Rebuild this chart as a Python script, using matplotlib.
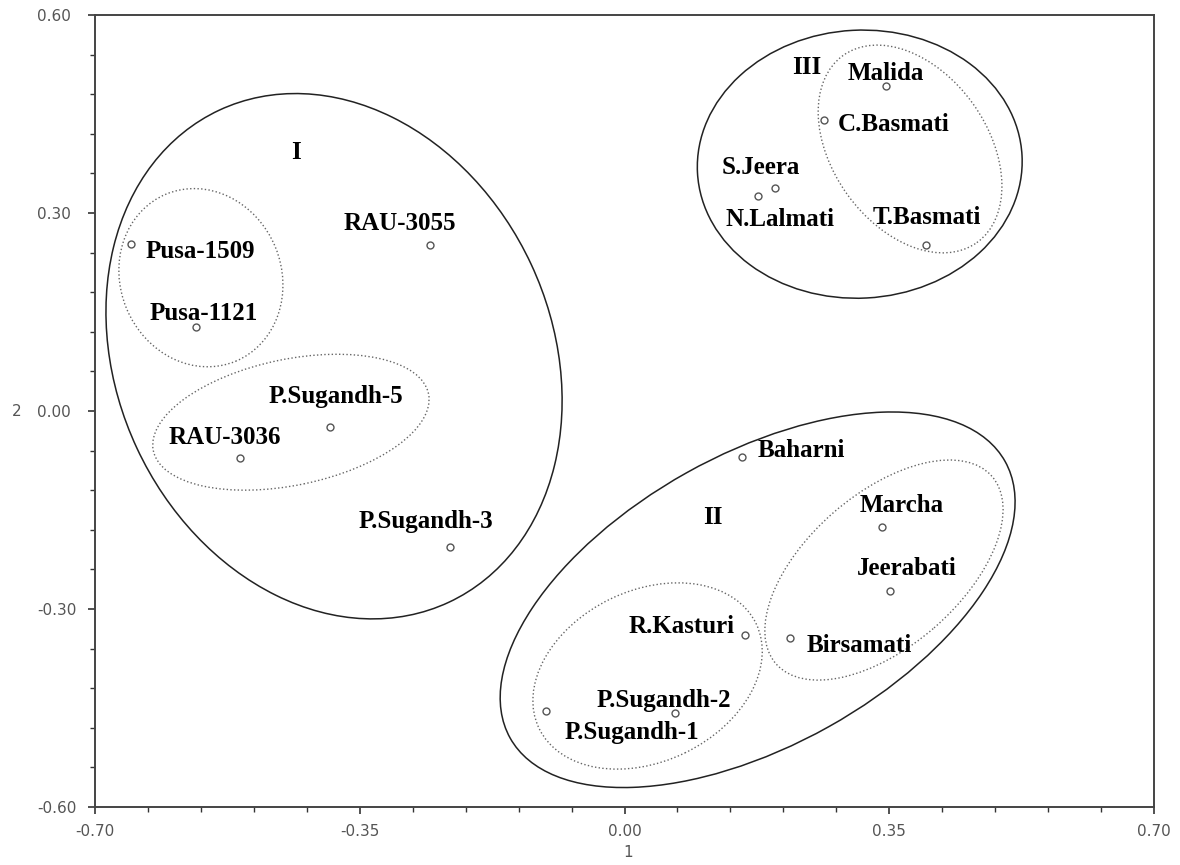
import numpy as np
import matplotlib.pyplot as plt
from matplotlib.patches import Ellipse
from matplotlib.transforms import ScaledTranslation
from matplotlib.ticker import MultipleLocator, FormatStrFormatter

plt.rcParams['axes.unicode_minus'] = False

# genotype scores on the first two axes
names = ['Pusa-1509', 'Pusa-1121', 'RAU-3036', 'P.Sugandh-5', 'RAU-3055', 'P.Sugandh-3',
         'Malida', 'C.Basmati', 'S.Jeera', 'N.Lalmati', 'T.Basmati',
         'Baharni', 'Marcha', 'Jeerabati', 'Birsamati', 'R.Kasturi', 'P.Sugandh-2', 'P.Sugandh-1']
dim1 = [-0.652, -0.566, -0.508, -0.389, -0.257, -0.231,
        0.346, 0.264, 0.199, 0.177, 0.399,
        0.155, 0.340, 0.351, 0.219, 0.159, 0.067, -0.104]
dim2 = [0.253, 0.127, -0.071, -0.024, 0.252, -0.206,
        0.492, 0.441, 0.338, 0.326, 0.252,
        -0.070, -0.175, -0.272, -0.344, -0.339, -0.458, -0.455]

# label placement: offset in pixels (right, up) and alignment
lab_dx = [14, 7, -15, 6, -30, -24, 0, 14, -14, 22, 0, 16, 20, 17, 16, -10, -11, 86]
lab_dy = [-7, 14, 20, 30, 21, 25, 13, -5, 20, -24, 27, 7, 21, 22, -7, 8, 13, -21]
lab_ha = ['left', 'center', 'center', 'center', 'center', 'center', 'center', 'left',
          'center', 'center', 'center', 'left', 'center', 'center', 'left', 'right',
          'center', 'center']

# cluster names
groups = ['I', 'II', 'III']
group_x = [-0.434, 0.117, 0.241]
group_y = [0.391, -0.162, 0.520]

# cluster outlines: centre (data), size in pixels, tilt in degrees, line style
ell_cx = [-0.384, -0.560, -0.441, 0.311, 0.3775, 0.176, 0.0305, 0.343]
ell_cy = [0.083, 0.202, -0.017, 0.374, 0.397, -0.286, -0.4015, -0.241]
ell_w = [435, 161, 281, 325, 155, 567, 241, 286]
ell_h = [543, 181, 126, 268, 230, 291, 171, 153]
ell_ang = [25, 22.5, 11.7, 3, 35.5, 29.2, 25.8, 40.9]
ell_ls = ['-', ':', ':', '-', ':', '-', ':', ':']

fig = plt.figure(figsize=(11.8, 8.65), dpi=100)
ax = fig.add_axes([95 / 1180, 58 / 865, 1059 / 1180, 792 / 865])

ax.plot(dim1, dim2, 'o', ms=5, mfc='white', mec='#555555', mew=1.0, zorder=3)

for i in range(len(names)):
    ax.annotate(names[i], (dim1[i], dim2[i]), xytext=(lab_dx[i], lab_dy[i]),
                textcoords='offset pixels', ha=lab_ha[i], va='center',
                fontsize=18, fontweight='bold', family='Liberation Serif', color='black')

for g, gx, gy in zip(groups, group_x, group_y):
    ax.text(gx, gy, g, ha='center', va='center', fontsize=18, fontweight='bold',
            family='Liberation Serif')

for i in range(len(ell_cx)):
    tr = fig.dpi_scale_trans + ScaledTranslation(ell_cx[i], ell_cy[i], ax.transData)
    solid = ell_ls[i] == '-'
    e = Ellipse((0, 0), ell_w[i] / 100, ell_h[i] / 100, angle=ell_ang[i], transform=tr,
                fill=False, ls=ell_ls[i], lw=1.1 if solid else 1.0,
                ec='#222222' if solid else '#666666')
    ax.add_patch(e)

ax.set_xlim(-0.70, 0.70)
ax.set_ylim(-0.60, 0.60)
ax.xaxis.set_major_locator(MultipleLocator(0.35))
ax.xaxis.set_minor_locator(MultipleLocator(0.07))
ax.yaxis.set_major_locator(MultipleLocator(0.30))
ax.yaxis.set_minor_locator(MultipleLocator(0.06))
ax.xaxis.set_major_formatter(FormatStrFormatter('%.2f'))
ax.yaxis.set_major_formatter(FormatStrFormatter('%.2f'))
ax.tick_params(which='major', length=5, width=1.2, color='#333333',
               labelsize=11, labelcolor='#555555')
ax.tick_params(which='minor', length=3.5, width=1.0, color='#333333')
ax.tick_params(axis='x', which='major', pad=7.5)
# y tick labels are left aligned, starting well left of the axis
ax.tick_params(axis='y', which='major', pad=36.5)
plt.setp(ax.get_yticklabels(), ha='left')
for s in ax.spines.values():
    s.set_color('#444444')
    s.set_linewidth(1.4)

ax.set_xlabel('1', fontsize=11, color='#555555', va='center')
ax.xaxis.set_label_coords(0.503, -0.057)
ax.set_ylabel('2', fontsize=11, color='#555555', rotation=0, va='center', ha='center')
ax.yaxis.set_label_coords(-0.0737, 0.5)

fig.savefig('out.png', dpi=100)
